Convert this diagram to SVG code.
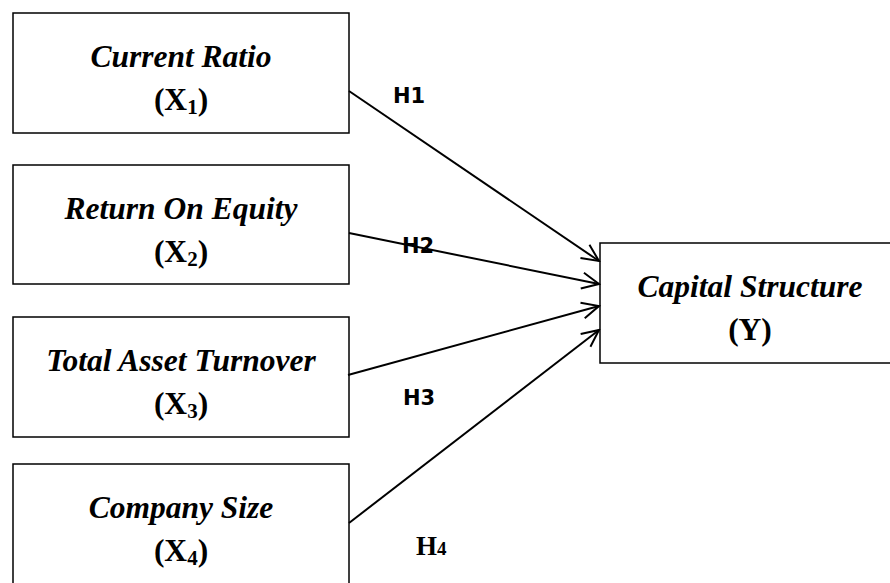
<svg xmlns="http://www.w3.org/2000/svg" width="890" height="583" viewBox="0 0 890 583">
<style>
.box{fill:#fff;stroke:#000;stroke-width:1.5}
.t{font-family:"Liberation Serif","Times New Roman",serif;font-weight:bold;font-size:31.5px;fill:#000;text-anchor:middle}
.i{font-style:italic}
.sub{font-size:21px}
.h{font-family:"DejaVu Sans",Verdana,sans-serif;font-weight:bold;font-size:21px;fill:#000}
.ht{font-family:"Liberation Serif","Times New Roman",serif;font-weight:bold;font-size:27px;fill:#000}
.c{stroke:#000;stroke-width:2;fill:none}
</style>
<defs>
<marker id="arr" markerUnits="userSpaceOnUse" markerWidth="22" markerHeight="22" viewBox="0 0 22 22" refX="20" refY="11" orient="auto">
<path d="M3,3 L20,11 L3,19" fill="none" stroke="#000" stroke-width="2"/>
</marker>
</defs>
<rect width="890" height="583" fill="#fff"/>
<g id="x1">
<rect class="box" x="13" y="13" width="336" height="120"/>
<text class="t i" x="181" y="67">Current Ratio</text>
<text class="t" x="181" y="110">(X<tspan class="sub" dy="4">1</tspan><tspan dy="-4">)</tspan></text>
</g>
<g id="x2">
<rect class="box" x="13" y="165" width="336" height="119"/>
<text class="t i" x="181" y="219">Return On Equity</text>
<text class="t" x="181" y="262">(X<tspan class="sub" dy="4">2</tspan><tspan dy="-4">)</tspan></text>
</g>
<g id="x3">
<rect class="box" x="13" y="317" width="336" height="120"/>
<text class="t i" x="181" y="371">Total Asset Turnover</text>
<text class="t" x="181" y="414">(X<tspan class="sub" dy="4">3</tspan><tspan dy="-4">)</tspan></text>
</g>
<g id="x4">
<rect class="box" x="13" y="464" width="336" height="140"/>
<text class="t i" x="181" y="518">Company Size</text>
<text class="t" x="181" y="561">(X<tspan class="sub" dy="4">4</tspan><tspan dy="-4">)</tspan></text>
</g>
<g id="y">
<rect class="box" x="600" y="243" width="300" height="120"/>
<text class="t i" x="750" y="297">Capital Structure</text>
<text class="t" x="750" y="340">(Y)</text>
</g>
<g id="connectors">
<line class="c" x1="349" y1="91" x2="599" y2="261" marker-end="url(#arr)"/>
<line class="c" x1="349" y1="233" x2="599" y2="284" marker-end="url(#arr)"/>
<line class="c" x1="348" y1="375" x2="599" y2="306" marker-end="url(#arr)"/>
<line class="c" x1="349" y1="523" x2="599" y2="330" marker-end="url(#arr)"/>
</g>
<g id="labels">
<text class="h" x="393" y="103">H1</text>
<text class="h" x="402" y="253">H2</text>
<text class="h" x="403" y="405">H3</text>
<text class="ht" x="416" y="555">H<tspan font-size="19">4</tspan></text>
</g>
</svg>
